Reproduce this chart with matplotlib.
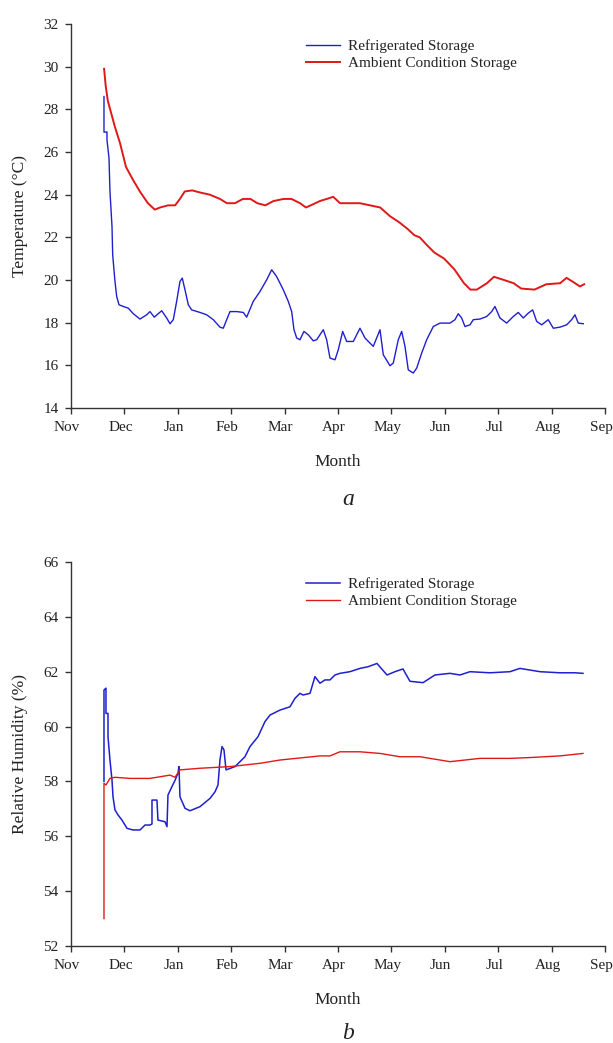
import matplotlib
matplotlib.use("Agg")
import matplotlib.pyplot as plt
from matplotlib.transforms import ScaledTranslation

plt.rcParams["font.family"] = ["Liberation Serif", "DejaVu Serif"]

months = ["Nov", "Dec", "Jan", "Feb", "Mar", "Apr", "May", "Jun", "Jul", "Aug", "Sep"]

# x positions are in months counted from 1 Nov (0 = Nov, 10 = Sep)
temp_ref_x = [0.618, 0.618, 0.674, 0.674, 0.712, 0.730, 0.768, 0.781, 0.824, 0.856, 0.899, 0.979,
              1.073, 1.167, 1.292, 1.418, 1.479, 1.560, 1.699, 1.792, 1.854, 1.916, 1.979, 2.041,
              2.084, 2.135, 2.197, 2.260, 2.416, 2.541, 2.665, 2.790, 2.852, 2.916, 2.978, 3.103,
              3.227, 3.290, 3.414, 3.539, 3.665, 3.758, 3.852, 3.976, 4.069, 4.133, 4.176, 4.227,
              4.288, 4.363, 4.444, 4.537, 4.601, 4.725, 4.788, 4.850, 4.944, 5.006, 5.088, 5.163,
              5.287, 5.412, 5.506, 5.661, 5.787, 5.848, 5.974, 6.036, 6.129, 6.193, 6.255, 6.316,
              6.410, 6.474, 6.567, 6.661, 6.785, 6.910, 7.097, 7.191, 7.253, 7.316, 7.378, 7.472,
              7.534, 7.659, 7.785, 7.878, 7.940, 8.034, 8.159, 8.283, 8.376, 8.470, 8.564, 8.646,
              8.721, 8.815, 8.938, 9.032, 9.157, 9.283, 9.376, 9.438, 9.500, 9.594]
temp_ref = [28.6, 26.93, 26.94, 26.57, 25.71, 24.15, 22.51, 21.18, 19.93, 19.23, 18.84, 18.76,
            18.68, 18.42, 18.17, 18.37, 18.52, 18.26, 18.56, 18.22, 17.95, 18.14, 19.0, 19.93,
            20.09, 19.54, 18.84, 18.6, 18.48, 18.37, 18.14, 17.79, 17.74, 18.14, 18.52, 18.52,
            18.48, 18.26, 19.0, 19.46, 20.01, 20.48, 20.16, 19.54, 19.0, 18.52, 17.67, 17.28,
            17.2, 17.59, 17.43, 17.15, 17.2, 17.67, 17.2, 16.34, 16.26, 16.73, 17.59, 17.12,
            17.12, 17.74, 17.28, 16.89, 17.67, 16.5, 15.98, 16.11, 17.2, 17.59, 16.89, 15.79,
            15.64, 15.87, 16.57, 17.2, 17.82, 17.98, 17.98, 18.14, 18.42, 18.22, 17.82, 17.9,
            18.14, 18.17, 18.29, 18.52, 18.76, 18.22, 17.98, 18.29, 18.48, 18.22, 18.45, 18.6,
            18.06, 17.9, 18.14, 17.74, 17.79, 17.9, 18.14, 18.37, 17.98, 17.95]

temp_amb_x = [0.62, 0.65, 0.69, 0.82, 0.92, 1.03, 1.16, 1.29, 1.44, 1.57, 1.67, 1.82, 1.95, 2.04,
              2.13, 2.27, 2.42, 2.60, 2.79, 2.92, 3.07, 3.22, 3.36, 3.49, 3.64, 3.79, 3.98, 4.13,
              4.29, 4.40, 4.49, 4.66, 4.79, 4.91, 5.04, 5.17, 5.30, 5.41, 5.79, 5.97, 6.15, 6.30,
              6.43, 6.53, 6.68, 6.80, 6.86, 6.99, 7.18, 7.36, 7.48, 7.60, 7.79, 7.92, 8.11, 8.29,
              8.43, 8.68, 8.90, 9.16, 9.28, 9.41, 9.53, 9.61]
temp_amb = [29.9, 29.1, 28.4, 27.2, 26.4, 25.3, 24.7, 24.15, 23.6, 23.3, 23.4, 23.5, 23.5, 23.8,
            24.15, 24.2, 24.1, 24.0, 23.8, 23.6, 23.6, 23.8, 23.8, 23.6, 23.5, 23.7, 23.8, 23.8,
            23.6, 23.4, 23.5, 23.7, 23.8, 23.9, 23.6, 23.6, 23.6, 23.6, 23.4, 23.0, 22.7, 22.4,
            22.1, 22.0, 21.6, 21.3, 21.2, 21.0, 20.5, 19.85, 19.55, 19.55, 19.85, 20.15, 20.0, 19.85,
            19.6, 19.55, 19.8, 19.85, 20.1, 19.9, 19.7, 19.8]

rh_ref_x = [0.618, 0.618, 0.655, 0.655, 0.693, 0.693, 0.730, 0.768, 0.787, 0.824, 0.880, 0.955,
            1.049, 1.161, 1.292, 1.386, 1.479, 1.517, 1.517, 1.610, 1.629, 1.760, 1.798, 1.816,
            1.891, 1.948, 2.004, 2.022, 2.041, 2.135, 2.228, 2.416, 2.603, 2.697, 2.753, 2.790,
            2.828, 2.865, 2.903, 3.071, 3.165, 3.258, 3.352, 3.502, 3.633, 3.727, 3.914, 4.101,
            4.195, 4.288, 4.345, 4.476, 4.569, 4.663, 4.757, 4.850, 4.944, 5.037, 5.225, 5.412,
            5.562, 5.730, 5.918, 6.067, 6.217, 6.348, 6.592, 6.816, 7.097, 7.285, 7.472, 7.846,
            8.221, 8.408, 8.783, 9.157, 9.438, 9.588]
rh_ref = [58.0, 61.33, 61.4, 60.48, 60.48, 59.63, 58.78, 58.05, 57.44, 56.96, 56.78, 56.59,
          56.29, 56.23, 56.23, 56.41, 56.41, 56.45, 57.32, 57.32, 56.59, 56.53, 56.35, 57.5,
          57.81, 58.04, 58.3, 58.54, 57.44, 57.02, 56.93, 57.08, 57.38, 57.62, 57.87, 58.78,
          59.27, 59.15, 58.42, 58.54, 58.72, 58.9, 59.27, 59.63, 60.18, 60.42, 60.6, 60.72,
          61.03, 61.21, 61.15, 61.21, 61.82, 61.58, 61.7, 61.7, 61.88, 61.94, 62.0, 62.12,
          62.18, 62.3, 61.88, 62.0, 62.1, 61.65, 61.6, 61.88, 61.94, 61.88, 62.0, 61.96,
          62.0, 62.12, 62.0, 61.96, 61.96, 61.94]

rh_amb_x = [0.618, 0.618, 0.655, 0.730, 0.824, 1.105, 1.479, 1.667, 1.854, 1.948, 2.041, 2.416,
            2.978, 3.539, 3.914, 4.663, 4.850, 5.037, 5.412, 5.787, 6.161, 6.536, 6.910, 7.097,
            7.378, 7.659, 8.221, 8.596, 9.157, 9.588]
rh_amb = [53.0, 57.93, 57.87, 58.11, 58.15, 58.11, 58.11, 58.17, 58.23, 58.15, 58.42, 58.48,
          58.54, 58.66, 58.78, 58.93, 58.93, 59.08, 59.08, 59.02, 58.9, 58.9, 58.78, 58.72,
          58.78, 58.84, 58.84, 58.87, 58.93, 59.02]

blue = "#1f1fd0"
red = "#e01818"

fig = plt.figure(figsize=(6.13, 10.43), dpi=100)
ax1 = fig.add_axes([0.1158, 0.6088, 0.8711, 0.3682])
ax2 = fig.add_axes([0.1158, 0.0930, 0.8711, 0.3682])


def style_axis(ax, ylim, yticks, ylabel):
    ax.set_xlim(0, 10)
    ax.set_xticks(range(len(months)))
    ax.set_xticklabels(months)
    ax.set_ylim(*ylim)
    ax.set_yticks(yticks)
    ax.spines["top"].set_visible(False)
    ax.spines["right"].set_visible(False)
    for s in ("left", "bottom"):
        ax.spines[s].set_color("#333333")
        ax.spines[s].set_linewidth(1.0)
    ax.tick_params(direction="out", length=4, width=1, color="#333333",
                   labelsize=11, labelcolor="#222222", pad=5)
    # month labels sit a little left of their ticks in the original
    shift = ScaledTranslation(-4 / 100, 0, fig.dpi_scale_trans)
    for lab in ax.get_xticklabels():
        lab.set_transform(lab.get_transform() + shift)
    ax.set_xlabel("Month", fontsize=12.5, labelpad=15, color="#222222")
    ax.set_ylabel(ylabel, fontsize=12.5, labelpad=11, color="#222222")
    leg = ax.legend(loc="upper left", bbox_to_anchor=(0.415, 0.995), frameon=False,
                    fontsize=11, handlelength=2.2, handletextpad=0.55, labelspacing=0.2)
    for t in leg.get_texts():
        t.set_color("#222222")


ax1.plot(temp_ref_x, temp_ref, color=blue, lw=1.0, label="Refrigerated Storage")
ax1.plot(temp_amb_x, temp_amb, color=red, lw=1.4, label="Ambient Condition Storage")
style_axis(ax1, (14, 32), range(14, 33, 2), "Temperature (°C)")

ax2.plot(rh_ref_x, rh_ref, color=blue, lw=1.1, label="Refrigerated Storage")
ax2.plot(rh_amb_x, rh_amb, color=red, lw=1.0, label="Ambient Condition Storage")
style_axis(ax2, (52, 66), range(52, 67, 2), "Relative Humidity (%)")

fig.text(0.568, 0.521, "a", fontsize=17, style="italic", ha="center", va="center", color="#222222")
fig.text(0.568, 0.009, "b", fontsize=17, style="italic", ha="center", va="center", color="#222222")

fig.savefig("out.png", dpi=100)
